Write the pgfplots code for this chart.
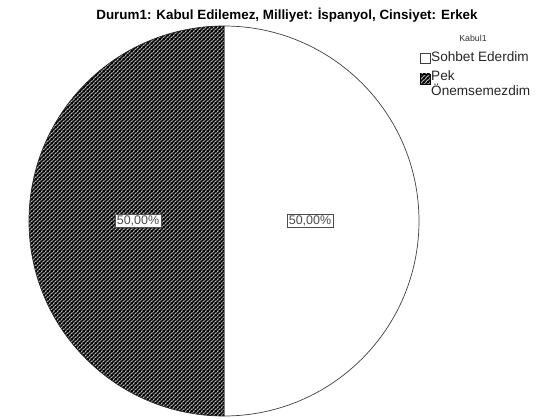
\documentclass[border=0pt]{standalone}
\usepackage{pgfplots}
\pgfplotsset{compat=1.18}
\usepackage{pgfplotstable}
\usepackage{fontspec}
\setmainfont{Liberation Sans}
\usetikzlibrary{patterns.meta}

% dense SPSS-style diagonal hatch
\tikzdeclarepattern{
  name=spsshatch,
  type=uncolored,
  bounding box={(0pt,0pt) and (4pt,4pt)},
  tile size={(4pt,4pt)},
  code={
    \draw[line width=1.9pt] (-1pt,-1pt) -- (5pt,5pt)
      (-1pt,3pt) -- (1pt,5pt) (3pt,-1pt) -- (5pt,1pt);
  }
}
\tikzset{lbl/.style={fill=white, draw=black!70, line width=0.6pt,
  inner sep=1.6pt, text=black!70, font=\fontsize{12.5}{14}\selectfont}}

\pgfplotstableread[col sep=comma]{
label,value
Sohbet Ederdim,50
Pek Önemsemezdim,50
}\piedata

\begin{document}
\begin{tikzpicture}
  \pgfplotstablegetelem{0}{value}\of\piedata \edef\va{\pgfplotsretval}
  \pgfplotstablegetelem{1}{value}\of\piedata \edef\vb{\pgfplotsretval}
  \pgfmathsetmacro\fa{\va/(\va+\vb)}
  \pgfmathsetmacro\fb{\vb/(\va+\vb)}
  \pgfmathsetmacro\angA{360*\fa}
  \pgfmathsetmacro\angB{360*\fb}
  \pgfmathsetmacro\midA{90-\angA/2}
  \pgfmathsetmacro\midB{90-\angA-\angB/2}
  \pgfmathsetmacro\pctA{100*\fa}
  \pgfmathsetmacro\pctB{100*\fb}
  \begin{axis}[
      hide axis, scale only axis,
      width=540pt, height=418pt,
      xmin=0, xmax=540, ymin=0, ymax=418,
      clip=false,
      /pgf/number format/assume math mode=true
    ]
    % keep the full canvas as the bounding box
    \path (axis cs:0,0) rectangle (axis cs:540,418);

    %% --- slices, clockwise from 12 o'clock ---
    \filldraw[fill=white, draw=black!75, line width=0.7pt]
      (axis cs:224,197) -- ++(90:195pt)
      arc[start angle=90, delta angle=-\angA, radius=195pt] -- cycle;
    \fill[white] (axis cs:224,197) -- ++(90-\angA:195pt)
      arc[start angle=90-\angA, delta angle=-\angB, radius=195pt] -- cycle;
    \filldraw[pattern=spsshatch, draw=black!85, line width=0.7pt]
      (axis cs:224,197) -- ++(90-\angA:195pt)
      arc[start angle=90-\angA, delta angle=-\angB, radius=195pt] -- cycle;

    %% --- percentage labels ---
    \path (axis cs:224,197) ++(\midA:86pt) node[lbl]
      {\pgfmathprintnumber[fixed, fixed zerofill, precision=2, use comma]{\pctA}\%};
    \path (axis cs:224,197) ++(\midB:86pt) node[lbl]
      {\pgfmathprintnumber[fixed, fixed zerofill, precision=2, use comma]{\pctB}\%};

    %% --- title ---
    \node[anchor=base, font=\bfseries\fontsize{13.4}{15}\selectfont]
      at (axis cs:287,398) {Durum1: Kabul Edilemez, Milliyet: İspanyol, Cinsiyet: Erkek};

    %% --- legend ---
    \node[anchor=base, font=\fontsize{8.8}{10}\selectfont, text=black!80]
      at (axis cs:473,376) {Kabul1};
    \draw[fill=white, draw=black!75, line width=0.6pt]
      (axis cs:420,355) rectangle (axis cs:430,365);
    \node[anchor=base west, inner sep=0pt, font=\fontsize{13.6}{14}\selectfont, text=black!85]
      at (axis cs:431,356.5) {Sohbet Ederdim};
    \fill[white] (axis cs:420,334) rectangle (axis cs:430,344);
    \draw[pattern=spsshatch, draw=black, line width=0.6pt]
      (axis cs:420,334) rectangle (axis cs:430,344);
    \node[anchor=base west, inner sep=0pt,
      font=\fontsize{13.6}{15}\selectfont, text=black!85]
      at (axis cs:431,337) {Pek};
    \node[anchor=base west, inner sep=0pt,
      font=\fontsize{13.6}{15}\selectfont, text=black!85]
      at (axis cs:431,322) {Önemsemezdim};
  \end{axis}
\end{tikzpicture}
\end{document}
